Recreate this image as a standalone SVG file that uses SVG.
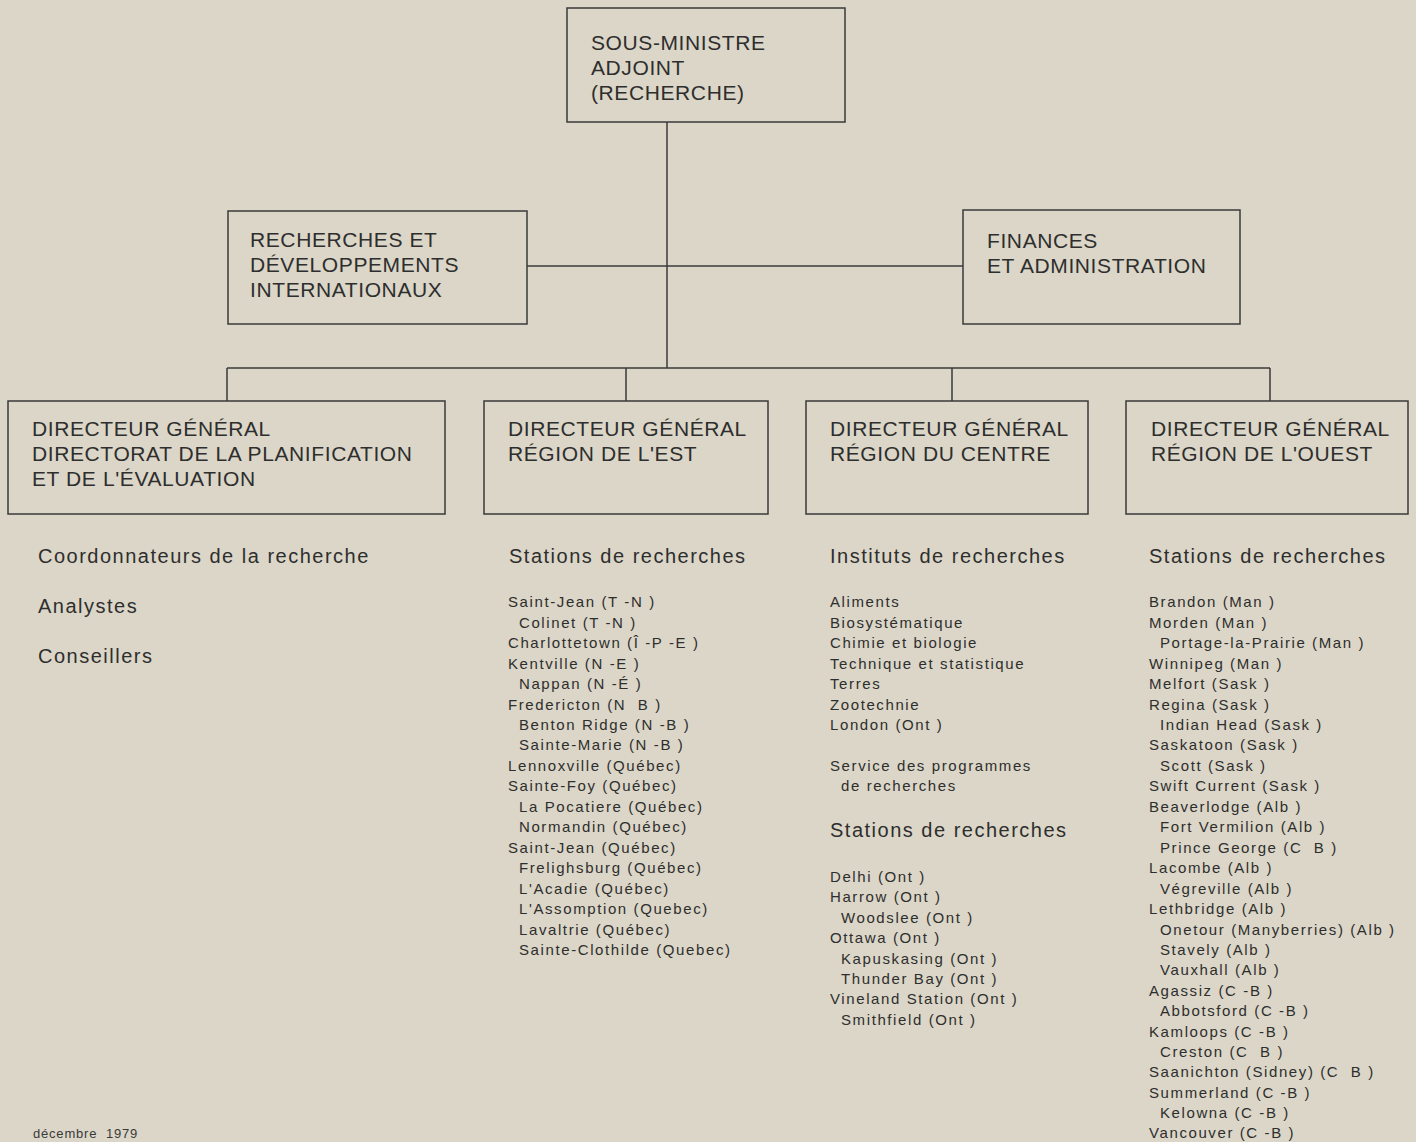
<svg xmlns="http://www.w3.org/2000/svg" width="1416" height="1142" viewBox="0 0 1416 1142">
<style>
.bg{fill:#dbd6c7}
.box{fill:none;stroke:#3a3a3a;stroke-width:1.5}
.ln{stroke:#3a3a3a;stroke-width:1.5;fill:none}
text{white-space:pre}
.bt{font-family:"Liberation Sans",Arial,sans-serif;font-size:21px;fill:#2e2e2e;letter-spacing:0.6px}
.hd{font-family:"Liberation Sans",Arial,sans-serif;font-size:20px;fill:#2e2e2e;letter-spacing:1.5px}
.li{font-family:"Liberation Sans",Arial,sans-serif;font-size:15px;fill:#2e2e2e;letter-spacing:1.6px}
.ft{font-family:"Liberation Sans",Arial,sans-serif;font-size:13px;fill:#3a3a3a;letter-spacing:0.8px}
</style>
<rect class="bg" x="0" y="0" width="1416" height="1142"/>
<g id="connectors">
<path class="ln" d="M667 122 V368"/>
<path class="ln" d="M527 266 H963"/>
<path class="ln" d="M227 368 H1270"/>
<path class="ln" d="M227 368 V401 M626 368 V401 M952 368 V401 M1270 368 V401"/>
</g>
<g id="sous-ministre">
<rect class="box" x="567" y="8" width="278" height="114"/>
<text class="bt" x="591" y="50">SOUS-MINISTRE</text>
<text class="bt" x="591" y="75">ADJOINT</text>
<text class="bt" x="591" y="100">(RECHERCHE)</text>
</g>
<g id="recherches-dev">
<rect class="box" x="228" y="211" width="299" height="113"/>
<text class="bt" x="250" y="247">RECHERCHES ET</text>
<text class="bt" x="250" y="272">DÉVELOPPEMENTS</text>
<text class="bt" x="250" y="297">INTERNATIONAUX</text>
</g>
<g id="finances">
<rect class="box" x="963" y="210" width="277" height="114"/>
<text class="bt" x="987" y="248">FINANCES</text>
<text class="bt" x="987" y="273">ET ADMINISTRATION</text>
</g>
<g id="dg-planification">
<rect class="box" x="8" y="401" width="437" height="113"/>
<text class="bt" x="32" y="436">DIRECTEUR GÉNÉRAL</text>
<text class="bt" x="32" y="461">DIRECTORAT DE LA PLANIFICATION</text>
<text class="bt" x="32" y="486">ET DE L'ÉVALUATION</text>
<text class="hd" x="38" y="563">Coordonnateurs de la recherche</text>
<text class="hd" x="38" y="613">Analystes</text>
<text class="hd" x="38" y="663">Conseillers</text>
</g>
<g id="dg-est">
<rect class="box" x="484" y="401" width="284" height="113"/>
<text class="bt" x="508" y="436">DIRECTEUR GÉNÉRAL</text>
<text class="bt" x="508" y="461">RÉGION DE L'EST</text>
<text class="hd" x="509" y="563">Stations de recherches</text>
<g class="li">
<text x="508" y="607">Saint-Jean (T -N )</text>
<text x="519" y="628">Colinet (T -N )</text>
<text x="508" y="648">Charlottetown (Î -P -E )</text>
<text x="508" y="669">Kentville (N -E )</text>
<text x="519" y="689">Nappan (N -É )</text>
<text x="508" y="710">Fredericton (N  B )</text>
<text x="519" y="730">Benton Ridge (N -B )</text>
<text x="519" y="750">Sainte-Marie (N -B )</text>
<text x="508" y="771">Lennoxville (Québec)</text>
<text x="508" y="791">Sainte-Foy (Québec)</text>
<text x="519" y="812">La Pocatiere (Québec)</text>
<text x="519" y="832">Normandin (Québec)</text>
<text x="508" y="853">Saint-Jean (Québec)</text>
<text x="519" y="873">Frelighsburg (Québec)</text>
<text x="519" y="894">L'Acadie (Québec)</text>
<text x="519" y="914">L'Assomption (Quebec)</text>
<text x="519" y="935">Lavaltrie (Québec)</text>
<text x="519" y="955">Sainte-Clothilde (Quebec)</text>
</g>
</g>
<g id="dg-centre">
<rect class="box" x="806" y="401" width="282" height="113"/>
<text class="bt" x="830" y="436">DIRECTEUR GÉNÉRAL</text>
<text class="bt" x="830" y="461">RÉGION DU CENTRE</text>
<text class="hd" x="830" y="563">Instituts de recherches</text>
<g class="li">
<text x="830" y="607">Aliments</text>
<text x="830" y="628">Biosystématique</text>
<text x="830" y="648">Chimie et biologie</text>
<text x="830" y="669">Technique et statistique</text>
<text x="830" y="689">Terres</text>
<text x="830" y="710">Zootechnie</text>
<text x="830" y="730">London (Ont )</text>
<text x="830" y="771">Service des programmes</text>
<text x="841" y="791">de recherches</text>
</g>
<text class="hd" x="830" y="837">Stations de recherches</text>
<g class="li">
<text x="830" y="882">Delhi (Ont )</text>
<text x="830" y="902">Harrow (Ont )</text>
<text x="841" y="923">Woodslee (Ont )</text>
<text x="830" y="943">Ottawa (Ont )</text>
<text x="841" y="964">Kapuskasing (Ont )</text>
<text x="841" y="984">Thunder Bay (Ont )</text>
<text x="830" y="1004">Vineland Station (Ont )</text>
<text x="841" y="1025">Smithfield (Ont )</text>
</g>
</g>
<g id="dg-ouest">
<rect class="box" x="1126" y="401" width="282" height="113"/>
<text class="bt" x="1151" y="436">DIRECTEUR GÉNÉRAL</text>
<text class="bt" x="1151" y="461">RÉGION DE L'OUEST</text>
<text class="hd" x="1149" y="563">Stations de recherches</text>
<g class="li">
<text x="1149" y="607">Brandon (Man )</text>
<text x="1149" y="628">Morden (Man )</text>
<text x="1160" y="648">Portage-la-Prairie (Man )</text>
<text x="1149" y="669">Winnipeg (Man )</text>
<text x="1149" y="689">Melfort (Sask )</text>
<text x="1149" y="710">Regina (Sask )</text>
<text x="1160" y="730">Indian Head (Sask )</text>
<text x="1149" y="750">Saskatoon (Sask )</text>
<text x="1160" y="771">Scott (Sask )</text>
<text x="1149" y="791">Swift Current (Sask )</text>
<text x="1149" y="812">Beaverlodge (Alb )</text>
<text x="1160" y="832">Fort Vermilion (Alb )</text>
<text x="1160" y="853">Prince George (C  B )</text>
<text x="1149" y="873">Lacombe (Alb )</text>
<text x="1160" y="894">Végreville (Alb )</text>
<text x="1149" y="914">Lethbridge (Alb )</text>
<text x="1160" y="935">Onetour (Manyberries) (Alb )</text>
<text x="1160" y="955">Stavely (Alb )</text>
<text x="1160" y="975">Vauxhall (Alb )</text>
<text x="1149" y="996">Agassiz (C -B )</text>
<text x="1160" y="1016">Abbotsford (C -B )</text>
<text x="1149" y="1037">Kamloops (C -B )</text>
<text x="1160" y="1057">Creston (C  B )</text>
<text x="1149" y="1077">Saanichton (Sidney) (C  B )</text>
<text x="1149" y="1098">Summerland (C -B )</text>
<text x="1160" y="1118">Kelowna (C -B )</text>
<text x="1149" y="1138">Vancouver (C -B )</text>
</g>
</g>
<text class="ft" x="33" y="1138">décembre  1979</text>
</svg>
